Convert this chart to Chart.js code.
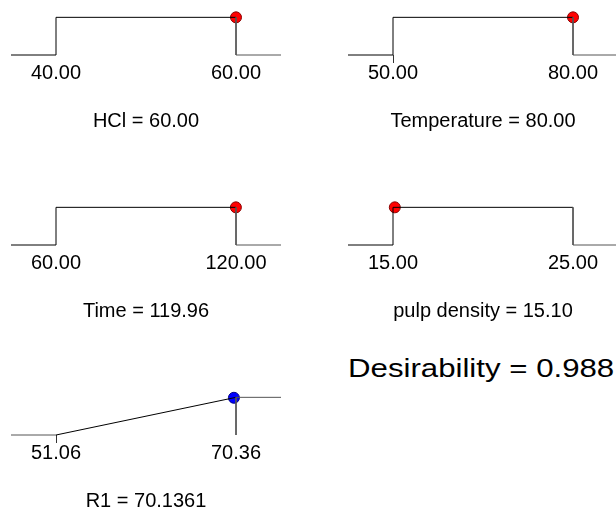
<!DOCTYPE html>
<html>
<head>
<meta charset="utf-8">
<script src="https://cdn.jsdelivr.net/npm/chart.js@4.4.1/dist/chart.umd.min.js"></script>
<style>
  html, body { margin: 0; padding: 0; background: #fff; overflow: hidden; }
  body { width: 616px; height: 508px; position: relative; }
  canvas { position: absolute; }
  #desir {
    position: absolute; left: 348px; top: 354px;
    font-family: "Liberation Sans", Arial, sans-serif; font-size: 26px; line-height: 28px;
    white-space: nowrap; color: #000;
    transform: scaleX(1.2); transform-origin: 0 0;
  }
</style>
</head>
<body>
<div id="desir"></div>
<script>
// * data
const factors = ["HCl", "Temperature", "Time", "pulp density", "R1"];
const goals = ["in range", "in range", "in range", "in range", "maximize"];
const lows = [40, 50, 60, 15, 51.06];
const highs = [60, 80, 120, 25, 70.36];
const settings = [60, 80, 119.96, 15.1, 70.1361];
const decimals = [2, 2, 2, 2, 4];
const desirability = 0.988;

const FONT = "'Liberation Sans', Arial, sans-serif";

window.addEventListener("DOMContentLoaded", () => {
  // panel placement on the page
  const slots = [[0, 0], [337, 0], [0, 190], [337, 190], [0, 380]];
  const markLow = [false, true, false, false, true];
  // the chart area reaches 40px above each panel so the axis is not capped at half height
  const lift = 40;

  factors.forEach((name, i) => {
    const cv = document.createElement("canvas");
    cv.width = 300;
    cv.height = 171;
    cv.style.left = slots[i][0] + "px";
    cv.style.top = slots[i][1] - lift + "px";
    document.body.appendChild(cv);

    const lo = lows[i];
    const hi = highs[i];
    const ext = (hi - lo) * 0.25;
    let ramp, side, d;

    if (goals[i] === "maximize") {
      d = (settings[i] - lo) / (hi - lo);
      ramp = [{ x: lo, y: 0 }, { x: hi, y: 1 }];
      side = [
        { x: lo - ext, y: 0 }, { x: lo, y: 0 }, { x: lo, y: null },
        { x: hi, y: 1 }, { x: hi + ext, y: 1 }, { x: hi + ext, y: null },
        { x: hi, y: 1 }, { x: hi, y: 0 },
      ];
    } else {
      d = 1;
      ramp = [{ x: lo - ext, y: 0 }, { x: lo, y: 0 }, { x: lo, y: 1 }, { x: hi, y: 1 }];
      side = [{ x: hi, y: 1 }, { x: hi, y: 0 }, { x: hi + ext, y: 0 }];
    }

    const dotFill = goals[i] === "maximize" ? "#0000ff" : "#ff0000";
    const dotEdge = goals[i] === "maximize" ? "#00008a" : "#8a0000";

    new Chart(cv.getContext("2d"), {
      type: "scatter",
      data: {
        datasets: [
          {
            data: side,
            showLine: true,
            borderColor: "#555",
            borderWidth: 1,
            pointRadius: 0,
            clip: false,
          },
          {
            data: ramp,
            showLine: true,
            borderColor: "#000",
            borderWidth: 1,
            pointRadius: 0,
            clip: false,
          },
          {
            data: [{ x: settings[i], y: d }],
            pointRadius: 5.5,
            pointBackgroundColor: dotFill,
            pointBorderColor: dotEdge,
            pointBorderWidth: 1,
            clip: false,
          },
        ],
      },
      options: {
        responsive: false,
        animation: false,
        devicePixelRatio: 1,
        layout: { padding: { left: 11, right: 19, top: 0, bottom: 0 } },
        plugins: { legend: { display: false }, tooltip: { enabled: false } },
        scales: {
          x: {
            type: "linear",
            min: lo - ext,
            max: hi + ext,
            bounds: "data",
            afterBuildTicks: (s) => {
              s.ticks = [{ value: lo }, { value: hi }];
            },
            grid: {
              display: true,
              drawOnChartArea: false,
              drawTicks: true,
              tickLength: 8,
              color: (ctx) => (markLow[i] && ctx.index === 0 ? "#333" : "rgba(0,0,0,0)"),
            },
            border: { display: false },
            ticks: {
              padding: 0,
              maxRotation: 0,
              autoSkip: false,
              color: "#000",
              font: { family: FONT, size: 20, lineHeight: 1 },
              callback: (v) => Number(v).toFixed(2),
            },
            title: {
              display: true,
              text: name + " = " + settings[i].toFixed(decimals[i]),
              color: "#000",
              font: { family: FONT, size: 20, lineHeight: 1 },
              padding: { top: 28, bottom: 0 },
            },
          },
          y: { display: false, min: 0, max: 2.35 },
        },
      },
    });
  });

  document.getElementById("desir").textContent =
    "Desirability = " + desirability.toFixed(3);
});
</script>
</body>
</html>
